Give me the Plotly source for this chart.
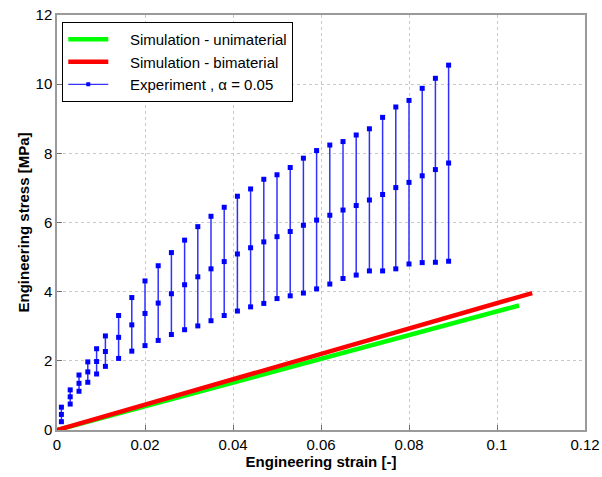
import plotly.graph_objects as go

# Experimental data (strain [-], stress [MPa])
exp_strain = [0.001, 0.003, 0.005, 0.007, 0.009, 0.011, 0.014, 0.017, 0.020, 0.023,
              0.026, 0.029, 0.032, 0.035, 0.038, 0.041, 0.044, 0.047, 0.050, 0.053,
              0.056, 0.059, 0.062, 0.065, 0.068, 0.071, 0.074, 0.077, 0.080, 0.083,
              0.086, 0.089]
exp_upper = [0.66, 1.16, 1.59, 1.97, 2.35, 2.72, 3.31, 3.83, 4.31, 4.75,
             5.13, 5.49, 5.88, 6.18, 6.44, 6.76, 6.97, 7.25, 7.38, 7.59,
             7.86, 8.08, 8.24, 8.34, 8.53, 8.71, 9.04, 9.34, 9.53, 9.88,
             10.17, 10.55]
exp_mean = [0.45, 0.96, 1.35, 1.68, 1.98, 2.27, 2.68, 3.04, 3.37, 3.67,
            3.94, 4.20, 4.43, 4.66, 4.87, 5.09, 5.27, 5.44, 5.59, 5.74,
            5.92, 6.07, 6.21, 6.36, 6.49, 6.65, 6.81, 7.01, 7.16, 7.35,
            7.53, 7.72]
exp_lower = [0.24, 0.75, 1.12, 1.38, 1.62, 1.84, 2.07, 2.28, 2.44, 2.59,
             2.76, 2.90, 3.01, 3.16, 3.31, 3.44, 3.56, 3.66, 3.80, 3.88,
             3.96, 4.08, 4.22, 4.38, 4.48, 4.60, 4.60, 4.66, 4.80, 4.84,
             4.85, 4.88]

uni_strain = [0.0, 0.105]
uni_stress = [0.0, 3.60]
bi_strain = [0.0, 0.108]
bi_stress = [0.0, 3.96]

x_ticks = [0, 0.02, 0.04, 0.06, 0.08, 0.1, 0.12]
x_ticktext = ["0", "0.02", "0.04", "0.06", "0.08", "0.1", "0.12"]
y_ticks = [0, 2, 4, 6, 8, 10, 12]

BLUE = "#0000ff"
FONT = "Liberation Sans, Arial, sans-serif"
PAD = "\u00a0" * 4
err_plus = [u - m for u, m in zip(exp_upper, exp_mean)]
err_minus = [m - l for m, l in zip(exp_mean, exp_lower)]

fig = go.Figure()
fig.add_trace(go.Scatter(x=uni_strain, y=uni_stress, mode="lines",
                         line=dict(color="#00ff00", width=4.5),
                         name=PAD + "Simulation - unimaterial"))
fig.add_trace(go.Scatter(x=bi_strain, y=bi_stress, mode="lines",
                         line=dict(color="#ff0000", width=4.5),
                         name=PAD + "Simulation - bimaterial"))
fig.add_trace(go.Scatter(x=exp_strain, y=exp_mean, mode="markers",
                         marker=dict(color=BLUE, symbol="square", size=5),
                         error_y=dict(type="data", symmetric=False, array=err_plus,
                                      arrayminus=err_minus, color="#3030ff",
                                      thickness=1.5, width=0),
                         showlegend=False))
fig.add_trace(go.Scatter(x=exp_strain, y=exp_upper, mode="markers",
                         marker=dict(color=BLUE, symbol="square", size=5),
                         showlegend=False))
fig.add_trace(go.Scatter(x=exp_strain, y=exp_lower, mode="markers",
                         marker=dict(color=BLUE, symbol="square", size=5),
                         showlegend=False))
fig.add_trace(go.Scatter(x=[None], y=[None], mode="lines+markers",
                         line=dict(color=BLUE, width=1),
                         marker=dict(color=BLUE, symbol="square", size=4),
                         name=PAD + "Experiment , \u03b1 = 0.05"))

axis_common = dict(showline=True, linecolor="#9a9a9a", linewidth=1.5, mirror=True,
                   ticks="inside", ticklen=5, tickcolor="#707070",
                   showgrid=True, gridcolor="#c8c8c8", griddash="dot", gridwidth=1,
                   zeroline=False, automargin=False,
                   tickfont=dict(family=FONT, size=15, color="black"))

fig.update_layout(
    width=602, height=477,
    margin=dict(l=57, r=17, t=15, b=47),
    paper_bgcolor="white", plot_bgcolor="white",
    font=dict(family=FONT, size=15, color="black"),
    xaxis=dict(range=[0, 0.12], tickvals=x_ticks, ticktext=x_ticktext,
               title=dict(text="<b>Engineering strain [-]</b>", standoff=2,
                          font=dict(family=FONT, size=15)),
               **axis_common),
    yaxis=dict(range=[0, 12], tickvals=y_ticks,
               title=dict(text="<b>Engineering stress [MPa]</b>", standoff=2,
                          font=dict(family=FONT, size=15)),
               **axis_common),
    legend=dict(x=0.01, y=0.983, xanchor="left", yanchor="top",
                bordercolor="black", borderwidth=1, bgcolor="white",
                font=dict(family=FONT, size=15), tracegroupgap=0, itemwidth=40),
    showlegend=True,
)

fig.write_html("out.html", config={"displayModeBar": False},
               post_script="document.body.style.margin='0';document.body.style.overflow='hidden';")
